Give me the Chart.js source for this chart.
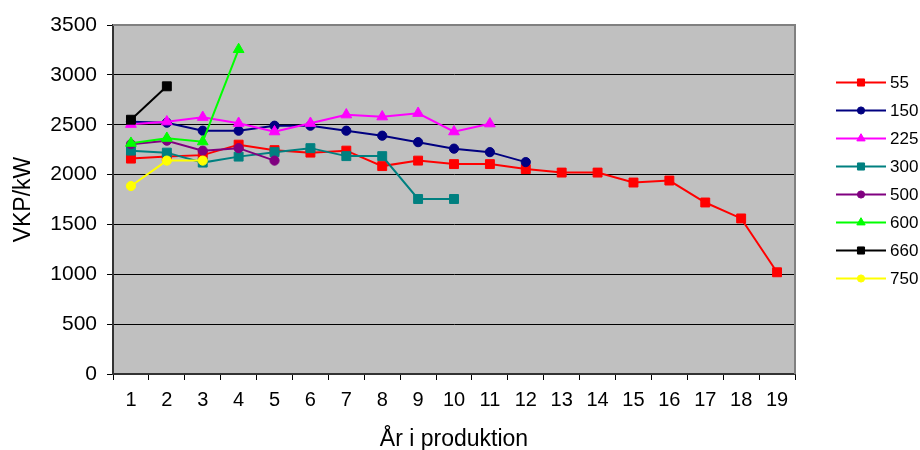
<!DOCTYPE html>
<html>
<head>
<meta charset="utf-8">
<script src="https://cdn.jsdelivr.net/npm/chart.js@4.4.1/dist/chart.umd.min.js"></script>
<style>
  html, body { margin: 0; padding: 0; background: #ffffff; }
  #wrap { width: 920px; height: 450px; position: relative; }
</style>
</head>
<body>
<div id="wrap"><canvas id="c" width="920" height="450"></canvas></div>
<script>
// ---- Data ----
const categories = ['1','2','3','4','5','6','7','8','9','10','11','12','13','14','15','16','17','18','19'];
const seriesNames = ['55','150','225','300','500','600','660','750'];
const s55  = [2160, 2180, 2195, 2300, 2245, 2220, 2240, 2085, 2140, 2105, 2105, 2055, 2020, 2020, 1920, 1940, 1720, 1560, 1020];
const s150 = [2530, 2520, 2440, 2440, 2490, 2490, 2440, 2390, 2325, 2260, 2225, 2125];
const s225 = [2505, 2530, 2575, 2515, 2430, 2515, 2600, 2580, 2615, 2430, 2510];
const s300 = [2240, 2220, 2120, 2180, 2225, 2265, 2185, 2185, 1755, 1755];
const s500 = [2305, 2340, 2240, 2265, 2140];
const s600 = [2315, 2365, 2330, 3255];
const s660 = [2550, 2885];
const s750 = [1885, 2140, 2140];
const yTicks = [0, 500, 1000, 1500, 2000, 2500, 3000, 3500];

const seriesValues = [s55, s150, s225, s300, s500, s600, s660, s750];
const colors = ['#FF0000', '#000080', '#FF00FF', '#008080', '#800080', '#00FF00', '#000000', '#FFFF00'];
const styles = ['rect', 'circle', 'triangle', 'rect', 'circle', 'triangle', 'rect', 'circle'];
const radii = { rect: 6.3, circle: 4.6, triangle: 6.2 };
const legendRadii = { rect: 5, circle: 3.6, triangle: 4.8 };

const datasets = seriesNames.map((name, i) => ({
  label: name,
  data: seriesValues[i],
  borderColor: colors[i],
  backgroundColor: colors[i],
  pointBackgroundColor: colors[i],
  pointBorderColor: colors[i],
  pointStyle: styles[i],
  pointRadius: radii[styles[i]],
  pointBorderWidth: 1,
  borderWidth: 2,
  tension: 0,
  fill: false,
  order: seriesNames.length - i
}));

const FONT = "'Liberation Sans', Arial, sans-serif";

const plotBg = {
  id: 'plotBg',
  beforeDraw(chart) {
    const { ctx, chartArea: a } = chart;
    ctx.save();
    ctx.fillStyle = '#C0C0C0';
    ctx.fillRect(a.left, a.top, a.right - a.left, a.bottom - a.top);
    ctx.restore();
  },
  beforeDatasetsDraw(chart) {
    const { ctx, chartArea: a } = chart;
    ctx.save();
    ctx.strokeStyle = '#808080';
    ctx.lineWidth = 2;
    ctx.beginPath();
    ctx.moveTo(a.left, a.top);
    ctx.lineTo(a.right, a.top);
    ctx.lineTo(a.right, a.bottom);
    ctx.stroke();
    ctx.restore();
  }
};

const customLegend = {
  id: 'customLegend',
  afterDraw(chart) {
    const { ctx } = chart;
    ctx.save();
    const x0 = 836, x1 = 886, y0 = 82.5, dy = 28;
    chart.data.datasets.forEach((ds, i) => {
      const y = y0 + i * dy;
      ctx.strokeStyle = ds.borderColor;
      ctx.lineWidth = 2;
      ctx.beginPath();
      ctx.moveTo(x0, y);
      ctx.lineTo(x1, y);
      ctx.stroke();
      ctx.fillStyle = ds.backgroundColor;
      ctx.strokeStyle = ds.borderColor;
      ctx.lineWidth = 1;
      Chart.helpers.drawPoint(ctx, { pointStyle: ds.pointStyle, rotation: 0, borderWidth: 1, radius: legendRadii[ds.pointStyle] }, (x0 + x1) / 2, y);
      ctx.fillStyle = '#000';
      ctx.font = '17px ' + FONT;
      ctx.textBaseline = 'middle';
      ctx.textAlign = 'left';
      ctx.fillText(ds.label, 890, y + 1);
    });
    ctx.restore();
  }
};

new Chart(document.getElementById('c'), {
  type: 'line',
  data: { labels: categories, datasets },
  options: {
    responsive: false,
    animation: false,
    devicePixelRatio: 1,
    layout: { padding: { left: 0, top: 25, right: 125, bottom: 0 } },
    plugins: { legend: { display: false }, tooltip: { enabled: false } },
    scales: {
      x: {
        type: 'category',
        offset: true,
        afterFit(scale) { scale.height = 76; },
        grid: { offset: true, drawOnChartArea: false, drawTicks: true, tickLength: 6, color: '#000', lineWidth: 1 },
        border: { color: '#333333', width: 2 },
        ticks: { color: '#000', font: { family: FONT, size: 20 }, padding: 8, maxRotation: 0, autoSkip: false },
        title: { display: true, text: 'År i produktion', color: '#000', font: { family: FONT, size: 23 }, padding: { top: 0, bottom: -3 } }
      },
      y: {
        min: 0, max: 3500,
        afterFit(scale) { scale.width = 113; },
        afterBuildTicks(scale) { scale.ticks = yTicks.map(v => ({ value: v })); },
        grid: { color: '#000', lineWidth: 1, drawTicks: true, tickLength: 6 },
        border: { color: '#333333', width: 2 },
        ticks: { color: '#000', font: { family: FONT, size: 21 }, padding: 10, callback: v => String(v) },
        title: { display: true, text: 'VKP/kW', color: '#000', font: { family: FONT, size: 23 }, padding: { top: 10, bottom: 0 } }
      }
    }
  },
  plugins: [plotBg, customLegend]
});
</script>
</body>
</html>
